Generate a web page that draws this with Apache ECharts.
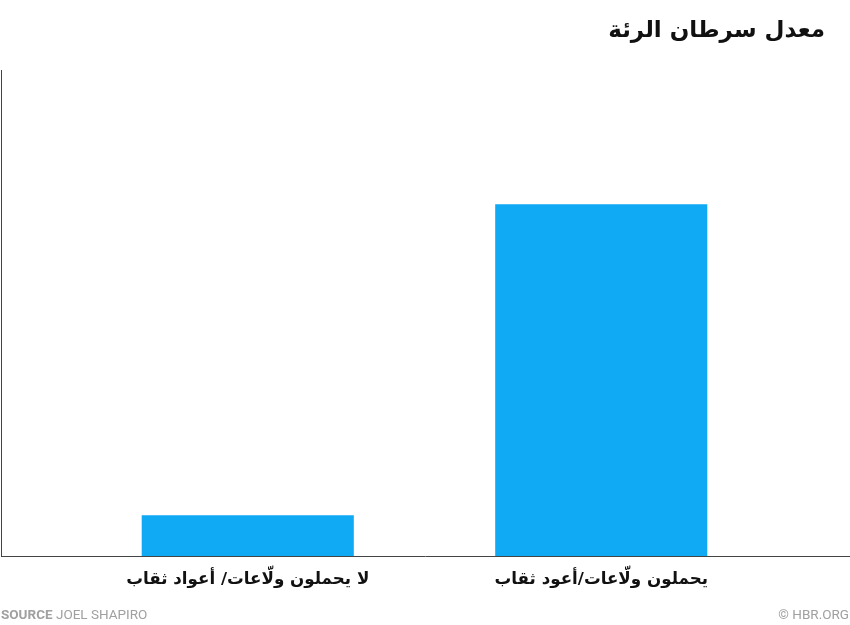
<!DOCTYPE html>
<html><head><meta charset="utf-8">
<script src="https://cdn.jsdelivr.net/npm/echarts@6/dist/echarts.min.js"></script>
<style>html,body{margin:0;padding:0;background:#fff}#c{width:850px;height:625px}</style>
</head><body><div id="c"></div>
<script>
const categories = ['لا يحملون ولّاعات/ أعواد ثقاب', 'يحملون ولّاعات/أعود ثقاب'];
const values = [8.4, 72.4];
const titleText = 'معدل سرطان الرئة';

const chart = echarts.init(document.getElementById('c'), null, {renderer: 'canvas'});
chart.setOption({
  backgroundColor: '#ffffff',
  animation: false,
  title: {
    text: titleText, right: 20, top: 15,
    textStyle: {fontFamily: 'DejaVu Sans', fontWeight: 'bold', fontSize: 23, color: '#111'}
  },
  grid: {left: 71, right: 72, top: 70, bottom: 69},
  xAxis: {
    type: 'category', data: categories,
    axisLine: {show: false}, axisTick: {show: false},
    axisLabel: {fontFamily: 'DejaVu Sans', fontWeight: 'bold', fontSize: 16.7, color: '#111', margin: 15}
  },
  yAxis: {
    type: 'value', min: 0, max: 100,
    axisLine: {show: false}, axisTick: {show: false}, axisLabel: {show: false},
    splitLine: {show: false}
  },
  series: [{
    type: 'bar', data: values, barWidth: '60%',
    itemStyle: {color: '#10a9f4'}
  }],
  graphic: [
    {type: 'line', shape: {x1: 1.5, y1: 70, x2: 1.5, y2: 556}, style: {stroke: '#444', lineWidth: 1}, z: 10},
    {type: 'line', shape: {x1: 1, y1: 556.5, x2: 850, y2: 556.5}, style: {stroke: '#444', lineWidth: 1}, z: 10},
    {type: 'text', left: 1, top: 609, style: {
      text: '{b|SOURCE} JOEL SHAPIRO',
      rich: {b: {fontWeight: 'bold', fontFamily: 'Roboto', fontSize: 13.5, fill: '#a0a0a0'}},
      fontFamily: 'Roboto', fontSize: 13.5, fill: '#a0a0a0'}},
    {type: 'text', right: 1, top: 609, style: {text: '© HBR.ORG', fontFamily: 'Roboto', fontSize: 13.5, fill: '#a0a0a0'}}
  ]
});
</script></body></html>
